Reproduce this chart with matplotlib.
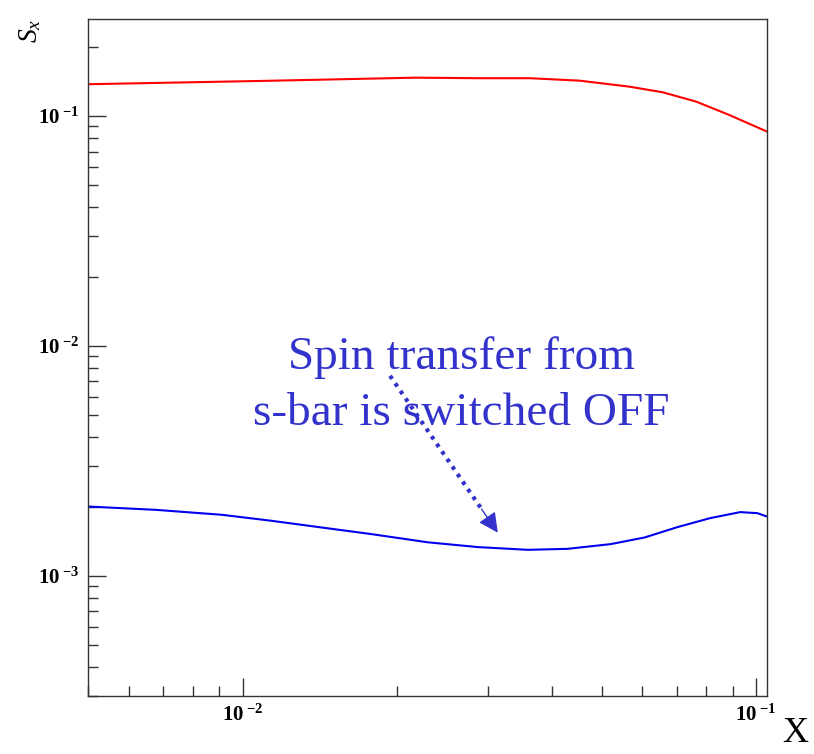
import matplotlib
matplotlib.use("Agg")
import matplotlib.pyplot as plt
from matplotlib.ticker import LogLocator, FuncFormatter, NullFormatter
import numpy as np

plt.rcParams["font.family"] = ["Liberation Serif", "DejaVu Serif"]
plt.rcParams["mathtext.fontset"] = "custom"
plt.rcParams["mathtext.rm"] = "Liberation Serif"
plt.rcParams["mathtext.it"] = "Liberation Serif:italic"
plt.rcParams["mathtext.bf"] = "Liberation Serif:bold"

# values
x_red = [0.005, 0.01074, 0.02168, 0.02898, 0.03623, 0.04529, 0.05662,
         0.06571, 0.07645, 0.08861, 0.105]
s_red = [0.1374, 0.1419, 0.1467, 0.1459, 0.1459, 0.1424, 0.1341,
         0.1268, 0.1154, 0.1010, 0.0855]

x_blue = [0.005, 0.006768, 0.009116, 0.01140, 0.01426, 0.01782, 0.02297,
          0.02872, 0.03592, 0.04295, 0.05205, 0.06060, 0.07025, 0.08140,
          0.09309, 0.1005, 0.105]
s_blue = [0.002001, 0.001936, 0.001842, 0.001734, 0.001622, 0.001518, 0.001398,
          0.001333, 0.001297, 0.001310, 0.001373, 0.001467, 0.001628, 0.001782,
          0.001892, 0.001873, 0.001810]

note_lines = ["Spin transfer from", "s-bar is switched OFF"]
note_x = 0.0267
note_y = [0.00890, 0.00506]
arrow_start = (0.01937, 0.00741)
arrow_tip = (0.0314, 0.00154)

x_range = (0.005, 0.105)
y_range = (3.0e-4, 0.264)

BLUE_TXT = "#3333cc"

fig = plt.figure(figsize=(8.14, 7.54), dpi=100)
ax = fig.add_axes([0.1081, 0.0769, 0.9423 - 0.1081, 0.9748 - 0.0769])

ax.plot(x_red, s_red, color="#ff0000", lw=1.5)
ax.plot(x_blue, s_blue, color="#0000ee", lw=1.5)

ax.set_xscale("log")
ax.set_yscale("log")
ax.set_xlim(*x_range)
ax.set_ylim(*y_range)


def decade_label(v, pos):
    e = int(round(np.log10(v)))
    return r"$\mathbf{10}^{\ \mathbf{%d}}$" % e


for axis in (ax.xaxis, ax.yaxis):
    axis.set_major_locator(LogLocator(base=10))
    axis.set_minor_locator(LogLocator(base=10, subs=np.arange(2, 10)))
    axis.set_major_formatter(FuncFormatter(decade_label))
    axis.set_minor_formatter(NullFormatter())

ax.tick_params(which="both", direction="in", top=False, right=False,
               color="#333333", labelsize=15)
ax.tick_params(which="major", length=13, width=1.0, pad=6)
ax.tick_params(which="minor", length=7, width=1.0)
for sp in ax.spines.values():
    sp.set_color("#333333")
    sp.set_linewidth(1.0)

# annotation text
for txt, ty in zip(note_lines, note_y):
    ax.text(note_x, ty, txt, ha="center", va="center", fontsize=34, color=BLUE_TXT)

# dotted arrow: dotted shaft plus a solid head near the tip (in log space)
lx = np.log10([arrow_start[0], arrow_tip[0]])
ly = np.log10([arrow_start[1], arrow_tip[1]])
head_base = (10 ** (lx[1] + 0.15 * (lx[0] - lx[1])), 10 ** (ly[1] + 0.15 * (ly[0] - ly[1])))
ax.plot([arrow_start[0], head_base[0]], [arrow_start[1], head_base[1]],
        color=BLUE_TXT, lw=3, linestyle=(0, (0.9, 1.3)))
ax.annotate("", xy=arrow_tip, xytext=head_base,
            arrowprops=dict(arrowstyle="-|>", lw=1, color=BLUE_TXT,
                            mutation_scale=30, shrinkA=0, shrinkB=0))

fig.text(0.037, 0.975, r"$S_{x}$", rotation=90, ha="center", va="top", fontsize=20)
fig.text(0.977, 0.005, "X", ha="center", va="bottom", fontsize=26)

fig.savefig("out.png", dpi=100)
